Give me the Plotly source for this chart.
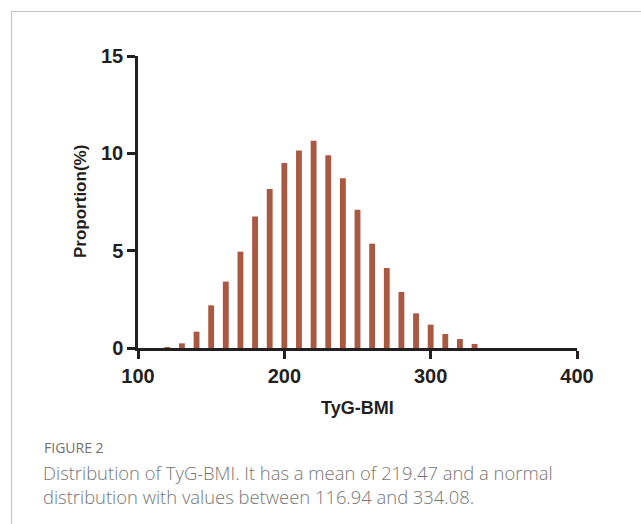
import plotly.graph_objects as go

# Data
bin_centers = [120, 130, 140, 150, 160, 170, 180, 190, 200, 210, 220,
               230, 240, 250, 260, 270, 280, 290, 300, 310, 320, 330]
proportions = [0.05, 0.24, 0.84, 2.19, 3.41, 4.95, 6.76, 8.17, 9.50, 10.14, 10.65,
               9.90, 8.72, 7.10, 5.36, 4.11, 2.88, 1.78, 1.20, 0.72, 0.46, 0.21]
x_ticks = [100, 200, 300, 400]
y_ticks = [0, 5, 10, 15]

W, H = 641, 524
L, R, T, B = 138, 64, 56, 176

def px(x):
    return (x - L) / (W - L - R)

def py(y):
    return (H - B - y) / (H - T - B)

fig = go.Figure()
fig.add_trace(go.Bar(
    x=bin_centers, y=proportions, width=4,
    marker=dict(color="#A95841", line=dict(width=0)),
    hoverinfo="x+y",
))

axis_col = "#231f20"
tickfont = dict(size=20, family="Liberation Sans, Arial", weight="bold", color=axis_col)
fig.update_layout(
    width=W, height=H,
    margin=dict(l=L, r=R, t=T, b=B, pad=0),
    paper_bgcolor="white", plot_bgcolor="white",
    showlegend=False,
    font=dict(family="Liberation Sans, Arial, sans-serif", color=axis_col),
    xaxis=dict(
        range=[100, 400], tickvals=x_ticks, showgrid=False, zeroline=False,
        showline=True, linewidth=2.5, linecolor=axis_col,
        ticks="outside", ticklen=8, tickwidth=2.5, tickcolor=axis_col,
        tickfont=tickfont,
    ),
    yaxis=dict(
        range=[0, 15], tickvals=y_ticks, showgrid=False, zeroline=False,
        showline=True, linewidth=2.5, linecolor=axis_col,
        ticks="outside", ticklen=8, tickwidth=2.5, tickcolor=axis_col,
        tickfont=tickfont,
    ),
)

cap_font = "Open Sans, Lato, sans-serif"
cap_col = "#767676"
annotations = [
    dict(text="<b>TyG-BMI</b>", x=px(357), y=py(408), xref="paper", yref="paper",
         showarrow=False, xanchor="center", yanchor="middle",
         font=dict(size=18, family="Liberation Sans, Arial", color=axis_col)),
    dict(text="<b>Proportion(%)</b>", x=px(80), y=py(202), xref="paper", yref="paper",
         showarrow=False, xanchor="center", yanchor="middle", textangle=-90,
         font=dict(size=17, family="Liberation Sans, Arial", color=axis_col)),
    dict(text="FIGURE 2", x=px(42), y=py(447), xref="paper", yref="paper",
         showarrow=False, xanchor="left", yanchor="middle",
         font=dict(size=14, family=cap_font, weight=500, color="#707070")),
    dict(text="Distribution of TyG-BMI. It has a mean of 219.47 and a normal",
         x=px(41), y=py(472), xref="paper", yref="paper",
         showarrow=False, xanchor="left", yanchor="middle",
         font=dict(size=18.4, family=cap_font, weight=300, color=cap_col)),
    dict(text="distribution with values between 116.94 and 334.08.",
         x=px(41), y=py(496), xref="paper", yref="paper",
         showarrow=False, xanchor="left", yanchor="middle",
         font=dict(size=18.4, family=cap_font, weight=300, color=cap_col)),
]
fig.update_layout(annotations=annotations)

border = "#c4c4c4"
fig.update_layout(shapes=[
    dict(type="line", xref="paper", yref="paper", x0=px(11), x1=px(641), y0=py(11.5), y1=py(11.5),
         line=dict(color=border, width=1.2)),
    dict(type="line", xref="paper", yref="paper", x0=px(11.5), x1=px(11.5), y0=py(11), y1=py(524),
         line=dict(color=border, width=1.2)),
])

fig.write_html("out.html")
